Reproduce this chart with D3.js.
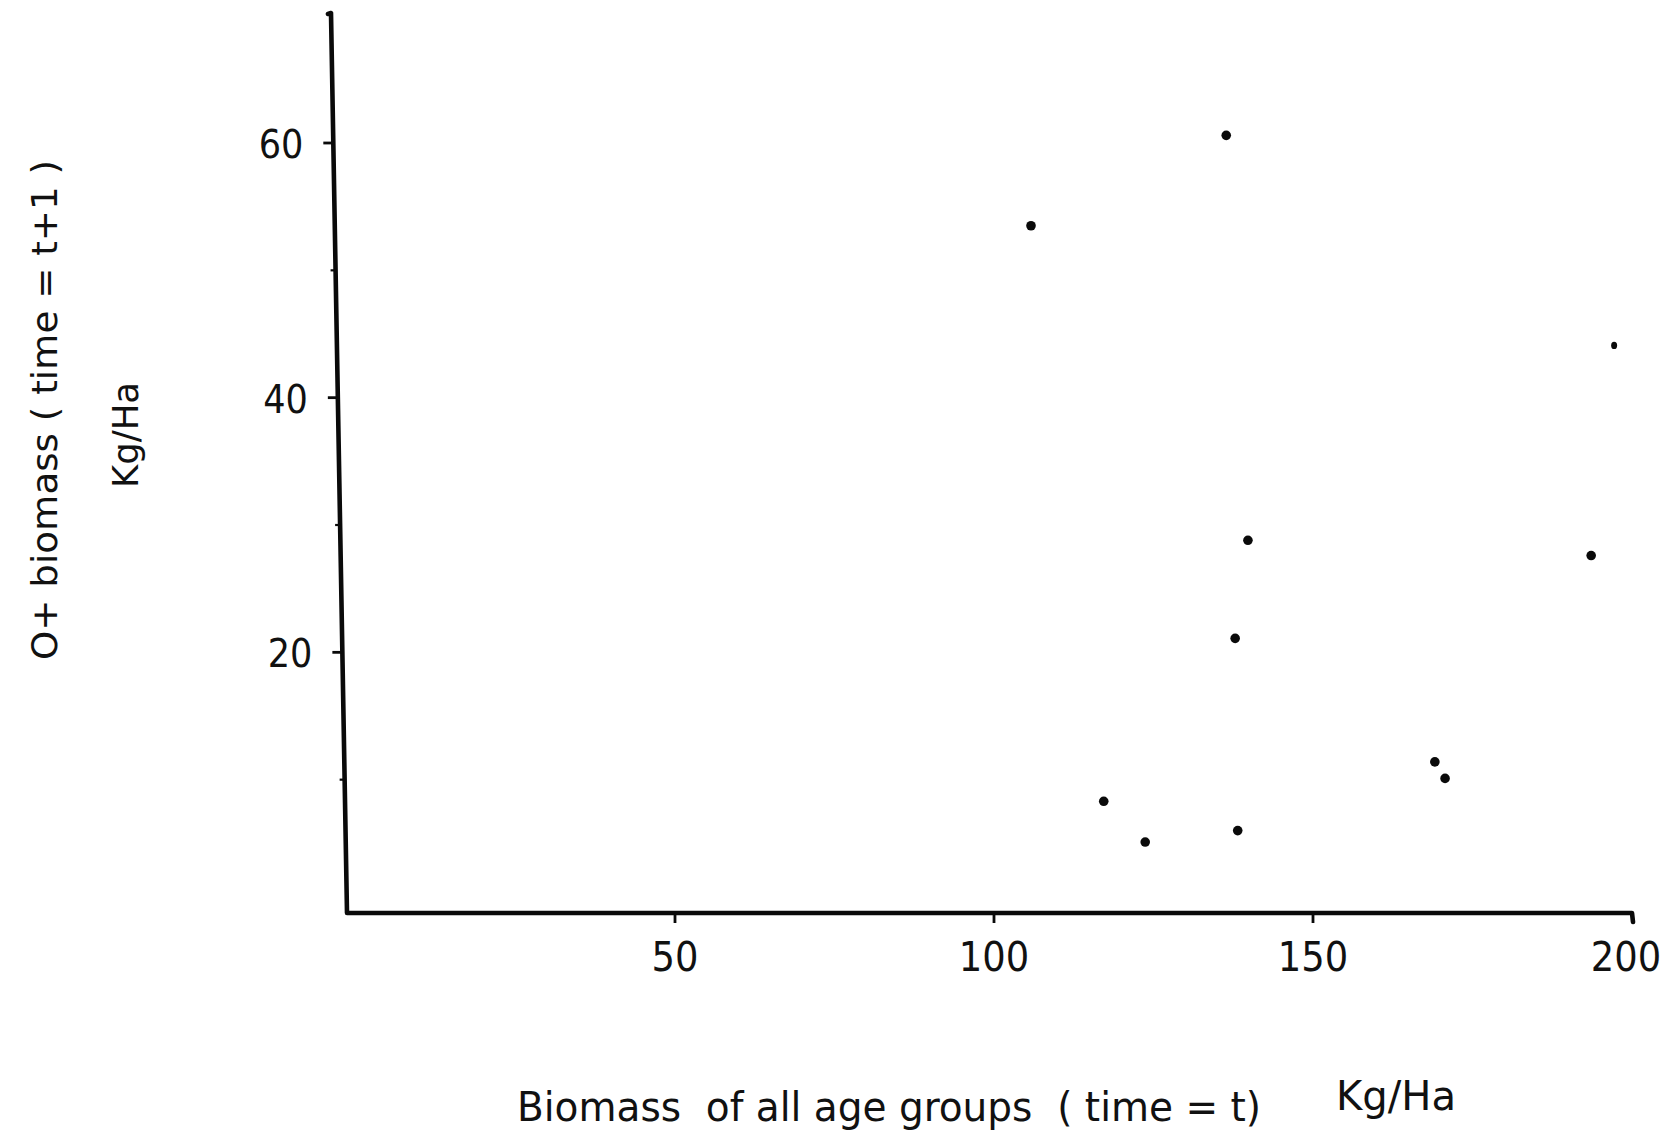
<!DOCTYPE html>
<html>
<head>
<meta charset="utf-8">
<script src="https://cdn.jsdelivr.net/npm/d3@7/dist/d3.min.js"></script>
<style>
  html, body { margin: 0; padding: 0; background: #fff; }
  svg { display: block; }
  .lbl { font-family: "DejaVu Sans Condensed", "DejaVu Sans", sans-serif; font-stretch: condensed; fill: #111; }
</style>
</head>
<body>
<svg id="chart" width="1664" height="1133"></svg>
<script>
// Biomass of all age groups at time t (Kg/Ha)
const biomassAll = [105.8, 136.4, 139.8, 137.8, 193.6, 117.2, 123.7, 138.2, 169.1, 170.7];
// 0+ biomass at time t+1 (Kg/Ha)
const biomassYoung = [53.5, 60.6, 28.8, 21.1, 27.6, 8.3, 5.1, 6.0, 11.4, 10.1];
// a faint, smaller mark near the right edge
const faintX = [197.2];
const faintY = [44.1];

const xTickValues = [50, 100, 150, 200];
const xTickLabels = ["50", "100", "150", "200"];
const yMajorTicks = [20, 40, 60];
const yMajorLabels = ["20", "40", "60"];
const yMinorTicks = [10, 30, 50];

const xTitle = "Biomass  of all age groups  ( time = t)";
const xUnit = "Kg/Ha";
const yTitle = "O+ biomass ( time = t+1 )";
const yUnit = "Kg/Ha";

const svg = d3.select("#chart");

const x = d3.scaleLinear().domain([0, 200]).range([356, 1632]);
const y = d3.scaleLinear().domain([0, 60]).range([907, 143]);

const axisBottomY = 913;
const axisTopY = 13;
// the hand-drawn vertical axis leans slightly: x position as a function of height
const axisXAt = py => 347 - (axisBottomY - py) * (16 / (axisBottomY - axisTopY));

const ink = "#0a0a0a";

// axes
svg.append("path")
  .attr("d", `M${axisXAt(axisTopY) - 3},${axisTopY + 1} L${axisXAt(axisTopY)},${axisTopY} L${axisXAt(axisBottomY)},${axisBottomY} L${x(200)},${axisBottomY} L${x(200) + 1},${axisBottomY + 9}`)
  .attr("fill", "none")
  .attr("stroke", ink)
  .attr("stroke-width", 4.6)
  .attr("stroke-linejoin", "round")
  .attr("stroke-linecap", "round");

// y ticks
svg.append("g").selectAll("line.major")
  .data(yMajorTicks)
  .join("line")
  .attr("x1", d => axisXAt(y(d)) - 10)
  .attr("x2", d => axisXAt(y(d)))
  .attr("y1", d => y(d))
  .attr("y2", d => y(d))
  .attr("stroke", ink)
  .attr("stroke-width", 2.8);

svg.append("g").selectAll("line.minor")
  .data(yMinorTicks)
  .join("line")
  .attr("x1", d => axisXAt(y(d)) - 5)
  .attr("x2", d => axisXAt(y(d)))
  .attr("y1", d => y(d))
  .attr("y2", d => y(d))
  .attr("stroke", ink)
  .attr("stroke-width", 2.2);

svg.append("g").selectAll("text")
  .data(yMajorTicks)
  .join("text")
  .attr("class", "lbl")
  .attr("x", d => axisXAt(y(d)) - 30)
  .attr("y", d => y(d) + 15)
  .attr("text-anchor", "end")
  .attr("font-size", 39)
  .text((d, i) => yMajorLabels[i]);

// x ticks
svg.append("g").selectAll("line")
  .data(xTickValues.slice(0, 3))
  .join("line")
  .attr("x1", d => x(d))
  .attr("x2", d => x(d))
  .attr("y1", axisBottomY)
  .attr("y2", axisBottomY + 10)
  .attr("stroke", ink)
  .attr("stroke-width", 2.8);

svg.append("g").selectAll("text")
  .data(xTickValues)
  .join("text")
  .attr("class", "lbl")
  .attr("x", (d, i) => x(d) - (i === 3 ? 6 : 0))
  .attr("y", 971)
  .attr("text-anchor", "middle")
  .attr("font-size", 41)
  .text((d, i) => xTickLabels[i]);

// data points
svg.append("g").selectAll("circle")
  .data(biomassAll.map((v, i) => [v, biomassYoung[i]]))
  .join("circle")
  .attr("cx", d => x(d[0]))
  .attr("cy", d => y(d[1]))
  .attr("r", 4.8)
  .attr("fill", ink);

svg.append("g").selectAll("ellipse")
  .data(faintX.map((v, i) => [v, faintY[i]]))
  .join("ellipse")
  .attr("cx", d => x(d[0]))
  .attr("cy", d => y(d[1]))
  .attr("rx", 3)
  .attr("ry", 3.6)
  .attr("fill", ink);

// axis titles
svg.append("text")
  .attr("class", "lbl")
  .attr("x", 517)
  .attr("y", 1121)
  .attr("font-size", 40)
  .attr("textLength", 744)
  .attr("lengthAdjust", "spacingAndGlyphs")
  .style("white-space", "pre")
  .text(xTitle);

svg.append("text")
  .attr("class", "lbl")
  .attr("x", 1336)
  .attr("y", 1110)
  .attr("font-size", 40)
  .attr("textLength", 120)
  .attr("lengthAdjust", "spacingAndGlyphs")
  .text(xUnit);

svg.append("text")
  .attr("class", "lbl")
  .attr("transform", "translate(57,660) rotate(-90)")
  .attr("font-size", 36)
  .attr("textLength", 500)
  .attr("lengthAdjust", "spacingAndGlyphs")
  .style("white-space", "pre")
  .text(yTitle);

svg.append("text")
  .attr("class", "lbl")
  .attr("transform", "translate(138,488) rotate(-90)")
  .attr("font-size", 36)
  .attr("textLength", 106)
  .attr("lengthAdjust", "spacingAndGlyphs")
  .text(yUnit);
</script>
</body>
</html>
